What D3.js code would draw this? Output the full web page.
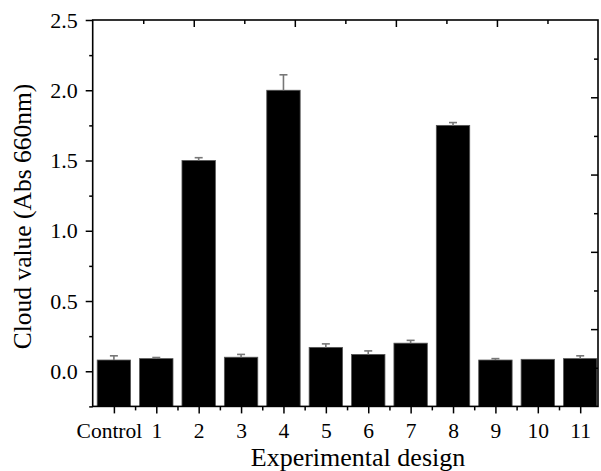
<!DOCTYPE html>
<html><head><meta charset="utf-8">
<script src="https://cdn.jsdelivr.net/npm/d3@7"></script>
<style>body{margin:0;background:#fff}svg{display:block}</style>
</head><body>
<svg id="c" width="601" height="471"></svg>
<script>
const categories = ["Control","1","2","3","4","5","6","7","8","9","10","11"];
const values = [0.08,0.09,1.50,0.10,2.00,0.17,0.12,0.20,1.75,0.08,0.085,0.09];
const errors = [0.03,0.008,0.02,0.02,0.11,0.025,0.025,0.02,0.02,0.01,0,0.02];
const yTicks = [0.0,0.5,1.0,1.5,2.0,2.5];
const yMinor = [-0.25,0.25,0.75,1.25,1.75,2.25];
const xLabel = "Experimental design";
const yLabel = "Cloud value (Abs 660nm)";

const svg = d3.select("#c");
const L=92.7, R=598, T=20, B=406.4;
const font = "'Liberation Serif','Times New Roman',serif";
const x = d3.scaleLinear().domain([-0.5, 11.42]).range([L,R]);
const y = d3.scaleLinear().domain([-0.25, 2.5]).range([B,T]);
const bw = 33.4;

// bars
svg.append("g").selectAll("rect").data(values).join("rect")
  .attr("x",(d,i)=>x(i)-bw/2).attr("width",bw)
  .attr("y",d=>y(d)).attr("height",d=>B-y(d))
  .attr("fill","#000").attr("stroke","#555").attr("stroke-width",0.8);

// error bars
const eg = svg.append("g").attr("stroke","#777").attr("stroke-width",1.6).attr("fill","none");
values.forEach((v,i)=>{
  if(errors[i]<=0) return;
  eg.append("line").attr("x1",x(i)).attr("x2",x(i)).attr("y1",y(v)).attr("y2",y(v+errors[i]));
  eg.append("line").attr("x1",x(i)-4).attr("x2",x(i)+4).attr("y1",y(v+errors[i])).attr("y2",y(v+errors[i]));
});

// left axis
const yAx = svg.append("g").attr("transform",`translate(${L},0)`)
  .call(d3.axisLeft(y).tickValues(yTicks).tickFormat(d3.format(".1f")).tickSize(7).tickPadding(8));
yAx.select(".domain").remove();
yAx.selectAll("line").attr("stroke","#000").attr("stroke-width",1.5);
yAx.selectAll("text").attr("font-family",font).attr("font-size",22).attr("fill","#000");
const yAm = svg.append("g").attr("transform",`translate(${L},0)`)
  .call(d3.axisLeft(y).tickValues(yMinor).tickFormat("").tickSize(3.5));
yAm.select(".domain").remove();
yAm.selectAll("line").attr("stroke","#000").attr("stroke-width",1.5);

// bottom axis
const xAx = svg.append("g").attr("transform",`translate(0,${B})`)
  .call(d3.axisBottom(x).tickValues(d3.range(categories.length)).tickFormat(i=>categories[i]).tickSize(7).tickPadding(9));
xAx.select(".domain").remove();
xAx.selectAll("line").attr("stroke","#000").attr("stroke-width",1.5);
xAx.selectAll("text").attr("font-family",font).attr("font-size",21.5).attr("fill","#000")
  .attr("dx",(d,i)=>i===0?-5:0);
const xAm = svg.append("g").attr("transform",`translate(0,${B})`)
  .call(d3.axisBottom(x).tickValues(d3.range(categories.length-1).map(i=>i+0.5)).tickFormat("").tickSize(4));
xAm.select(".domain").remove();
xAm.selectAll("line").attr("stroke","#000").attr("stroke-width",1.5);

// top axis (inward ticks)
const xt = d3.scaleLinear().domain([0,10]).range([L,R]);
const tAx = svg.append("g").attr("transform",`translate(0,${T})`)
  .call(d3.axisTop(xt).tickValues(d3.range(1,10)).tickFormat("").tickSizeInner(0).tickSizeOuter(0));
tAx.select(".domain").remove();
tAx.selectAll(".tick line").attr("y2",d=>d%2===0?7:4).attr("stroke","#000").attr("stroke-width",1.5);

// right axis (inward ticks)
const yr = d3.scaleLinear().domain([0,10]).range([T,B]);
const rAx = svg.append("g").attr("transform",`translate(${R},0)`)
  .call(d3.axisRight(yr).tickValues(d3.range(1,10)).tickFormat("").tickSizeInner(0).tickSizeOuter(0));
rAx.select(".domain").remove();
rAx.selectAll(".tick line").attr("x2",d=>d%2===0?-7:-4).attr("stroke","#000").attr("stroke-width",1.5);

// frame
svg.append("rect").attr("x",L).attr("y",T).attr("width",R-L).attr("height",B-T)
  .attr("fill","none").attr("stroke","#000").attr("stroke-width",1.6);

// titles
svg.append("text").attr("x",358).attr("y",466).attr("text-anchor","middle")
  .attr("font-family",font).attr("font-size",26).attr("fill","#000").text(xLabel);
svg.append("text").attr("transform","translate(30.5,216.5) rotate(-90)").attr("text-anchor","middle")
  .attr("font-family",font).attr("font-size",25.5).attr("fill","#000").text(yLabel);
</script>
</body></html>
